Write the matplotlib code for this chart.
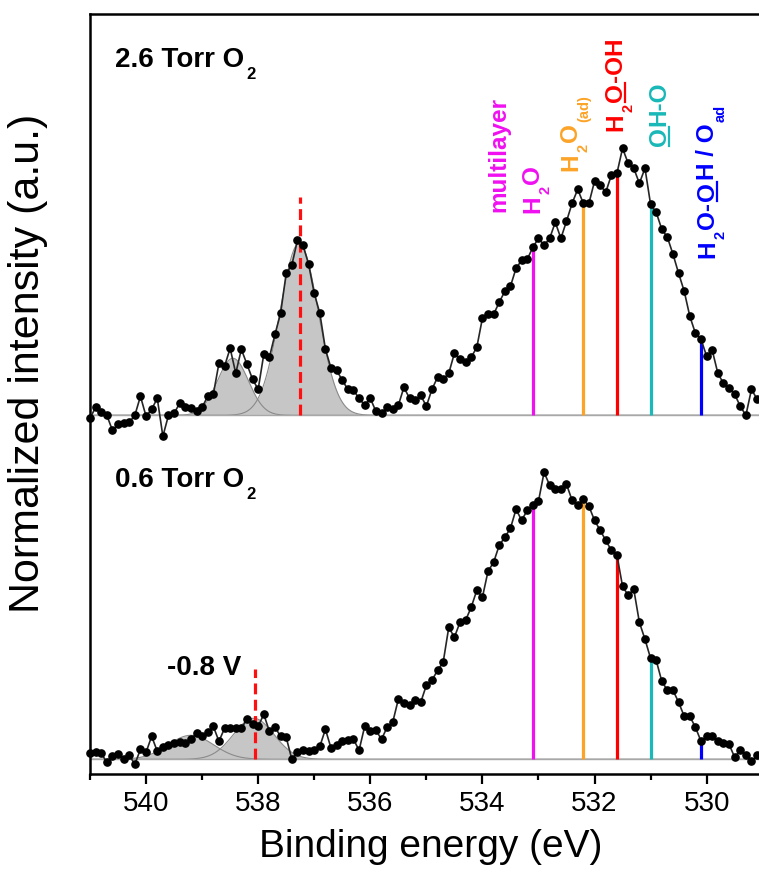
import numpy as np
import matplotlib
matplotlib.use('Agg')
import matplotlib.pyplot as plt
from matplotlib.lines import Line2D
from matplotlib.transforms import IdentityTransform

plt.rcParams['font.family'] = ['Liberation Sans', 'DejaVu Sans']

# binding energy grid of the O 1s spectra, 0.1 eV steps from 541.0 to 529.0 eV
energy = np.round(np.arange(541.0, 528.95, -0.1), 1)

# 2.6 Torr O2 spectrum (a.u., background subtracted)
spec_26 = [
    -3, 8, 3, 0, -15, -9, -8, -7, 0, 19,
    -1, 6, 17, -21, 0, 2, 12, 8, 7, 4,
    8, 19, 21, 52, 49, 67, 42, 66, 51, 36,
    26, 61, 58, 81, 102, 142, 150, 175, 170, 151,
    122, 102, 66, 47, 45, 35, 26, 25, 17, 10,
    17, 4, 2, 8, 6, 10, 28, 17, 15, 20,
    9, 26, 38, 36, 42, 62, 56, 53, 58, 68,
    97, 101, 101, 113, 124, 129, 147, 155, 156, 168,
    177, 170, 177, 193, 177, 194, 212, 226, 212, 212,
    234, 230, 223, 240, 242, 267, 252, 247, 232, 247,
    211, 203, 186, 178, 161, 142, 124, 99, 82, 76,
    59, 65, 42, 32, 27, 21, 9, 0, 26, 16,
    18,
]

# 0.6 Torr O2 spectrum (a.u.)
spec_06 = [
    6, 7, 6, -3, 3, 5, 0, 4, -5, 10,
    7, 23, 8, 12, 14, 16, 17, 16, 20, 26,
    23, 27, 33, 18, 31, 31, 31, 31, 40, 35,
    33, 45, 28, 32, 23, 22, 0, 7, 9, 8,
    9, 13, 30, 11, 14, 18, 19, 20, 9, 33,
    28, 29, 20, 32, 37, 60, 56, 54, 59, 57,
    74, 79, 89, 97, 132, 122, 137, 139, 152, 169,
    162, 188, 197, 214, 222, 231, 250, 239, 249, 254,
    258, 287, 274, 270, 270, 275, 259, 254, 260, 253,
    239, 229, 219, 209, 204, 173, 164, 170, 137, 120,
    101, 99, 78, 69, 69, 57, 43, 43, 32, 18,
    23, 23, 18, 16, 15, 2, 9, 4, -2, 4,
    2,
]

# gas phase O2 fit components: centre (eV), height (a.u.), FWHM (eV)
gas_center_26 = [538.45, 537.27]
gas_height_26 = [57, 172]
gas_fwhm_26 = [0.65, 0.80]
gas_center_06 = [539.20, 538.08]
gas_height_06 = [24, 41]
gas_fwhm_06 = [0.95, 0.85]
gas_mark = [537.25, 538.05]   # red dashed markers (2.6 / 0.6 Torr)

# surface species positions (eV)
species_E = [533.1, 532.2, 531.6, 531.0, 530.1]
species_colors = ['#f010f0', '#fca328', '#ff0000', '#1ab8b8', '#0000ff']

offset_26 = 344
offset_06 = 0

fig = plt.figure(figsize=(7.59, 8.80), dpi=100)
ax = fig.add_axes([90 / 759, 106 / 880, 672.7 / 759, 760 / 880])
ax.set_xlim(541, 529)
ax.set_ylim(-14.7, 745.3)

fine_E = np.linspace(541, 529, 800)


def gauss(x, c, h, fwhm):
    s = fwhm / 2.3548
    return h * np.exp(-(x - c) ** 2 / (2 * s * s))


def draw_spectrum(spec, off, centers, heights, fwhms, mark_E, mark_top):
    spec = np.array(spec, dtype=float)
    # fitted gas-phase peaks
    for c, h, w in zip(centers, heights, fwhms):
        g = gauss(fine_E, c, h, w)
        ax.fill_between(fine_E, off, off + g, color='#c6c6c6', lw=0, zorder=1)
    for c, h, w in zip(centers, heights, fwhms):
        g = gauss(fine_E, c, h, w)
        ax.plot(fine_E, off + g, color='#8a8a8a', lw=0.8, zorder=1.2)
    ax.axhline(off, color='#a8a8a8', lw=1.0, zorder=1.3)
    # species lines up to the spectrum
    for E, col in zip(species_E, species_colors):
        top = np.interp(E, energy[::-1], spec[::-1])
        ax.plot([E, E], [off, off + top], color=col, lw=2.3, zorder=2,
                solid_capstyle='butt')
    ax.plot([mark_E, mark_E], [off, off + mark_top], color='#ff1010', lw=2.3,
            ls=(0, (3.4, 1.7)), zorder=2.5)
    ax.plot(energy, off + spec, color='#262626', lw=1.2, marker='o', ms=5.2,
            mfc='black', mec='black', zorder=3, clip_on=False)


draw_spectrum(spec_26, offset_26, gas_center_26, gas_height_26, gas_fwhm_26,
              gas_mark[0], 218)
draw_spectrum(spec_06, offset_06, gas_center_06, gas_height_06, gas_fwhm_06,
              gas_mark[1], 90)

# axes styling
for side in ['left', 'top', 'bottom']:
    ax.spines[side].set_linewidth(1.8)
ax.spines['right'].set_visible(False)
ax.set_yticks([])
ax.set_xticks([540, 538, 536, 534, 532, 530])
ax.set_xticks(np.arange(541, 528.5, -1), minor=True)
ax.tick_params(axis='x', which='major', direction='out', length=7, width=1.6,
               labelsize=20, pad=5)
ax.tick_params(axis='x', which='minor', direction='out', length=4.5, width=1.6)
ax.set_xlabel('Binding energy (eV)', fontsize=28)
ax.xaxis.set_label_coords(0.507, -0.072)
ax.set_ylabel('Normalized intensity (a.u.)', fontsize=31)
ax.yaxis.set_label_coords(-0.062, 0.54)

renderer = fig.canvas.get_renderer()


def stacked_text(E, y, pieces, color, size, rotation=90):
    # write text piece by piece so subscripts and underlines can be placed
    px, py = ax.transData.transform((E, y))
    em = size * fig.dpi / 72
    along = 0.0
    for s, kind in pieces:
        sub = kind == 'sub'
        fs = size * 0.6 if sub else size
        drop = 0.44 * em if sub else 0.0
        if rotation == 90:
            x, yy = px + drop, py + along
        else:
            x, yy = px + along, py - drop
        t = fig.text(x, yy, s, transform=IdentityTransform(), rotation=rotation,
                     rotation_mode='anchor', ha='left', va='baseline',
                     fontsize=fs, fontweight='bold', color=color)
        bb = t.get_window_extent(renderer)
        w = bb.height if rotation == 90 else bb.width
        if kind == 'u':
            o = 0.13 * em
            if rotation == 90:
                ln = Line2D([px + o, px + o], [py + along, py + along + w])
            else:
                ln = Line2D([px + along, px + along + w], [py - o, py - o])
            ln.set_transform(IdentityTransform())
            ln.set_color(color)
            ln.set_linewidth(1.6)
            fig.add_artist(ln)
        along += w + 0.07 * em


# panel labels
stacked_text(540.55, 692.6, [('2.6 Torr O', 'n'), ('2', 'sub')], 'black', 20, 0)
stacked_text(540.55, 272.6, [('0.6 Torr O', 'n'), ('2', 'sub')], 'black', 20, 0)
stacked_text(539.63, 84.3, [('-0.8 V', 'n')], 'black', 20, 0)

# species labels (baseline sits 8 px right of glyph centre)
lab = 17.5
shift = 8.5 / 56
stacked_text(533.74 - shift, 547, [('multilayer', 'n')], species_colors[0], lab)
stacked_text(533.14 - shift, 546, [('H', 'n'), ('2', 'sub'), ('O', 'n')],
             species_colors[0], lab)
stacked_text(532.46 - shift, 588, [('H', 'n'), ('2', 'sub'), ('O', 'n'), ('(ad)', 'sub')],
             species_colors[1], lab)
stacked_text(531.66 - shift, 628, [('H', 'n'), ('2', 'sub'), ('O', 'u'), ('-OH', 'n')],
             species_colors[2], lab)
stacked_text(530.88 - shift, 613, [('O', 'u'), ('H-O', 'n')], species_colors[3], lab)
stacked_text(530.02 - shift, 501, [('H', 'n'), ('2', 'sub'), ('O-', 'n'), ('O', 'u'),
                                   ('H / O', 'n'), ('ad', 'sub')],
             species_colors[4], lab)

fig.savefig('out.png', dpi=100)
